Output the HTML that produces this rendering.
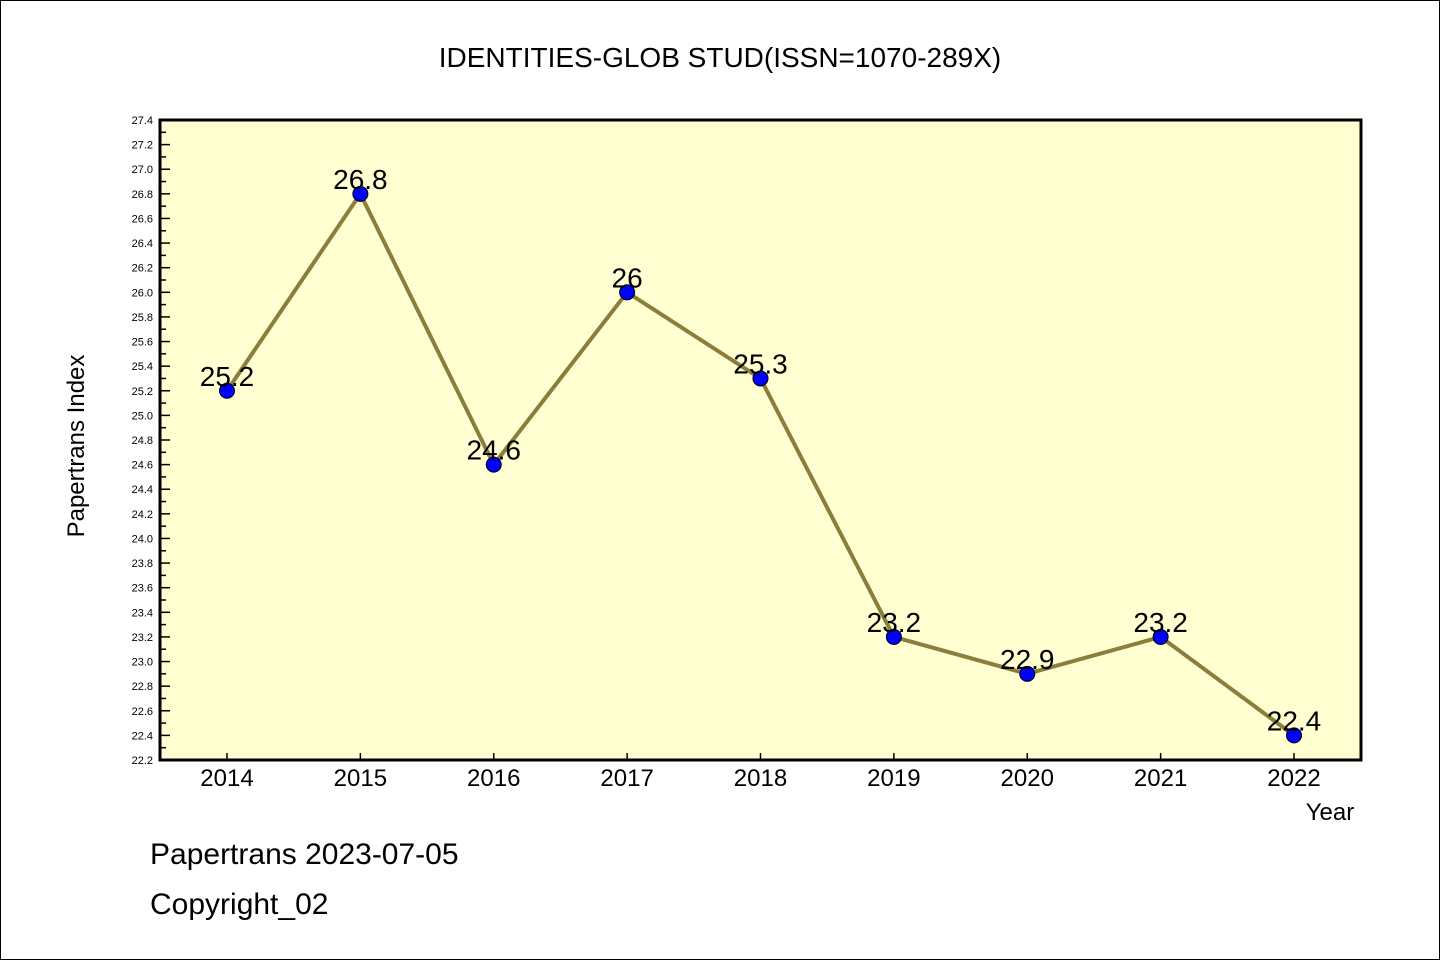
<!DOCTYPE html>
<html><head><meta charset="utf-8"><style>
body{margin:0;background:#fff}
svg text{font-family:"WenQuanYi Zen Hei","Liberation Sans",sans-serif}
</style></head><body>
<svg id="c" width="1440" height="960" xmlns="http://www.w3.org/2000/svg">
<rect x="0.5" y="0.5" width="1439" height="959" fill="#fff" stroke="#000"/>
<text x="720" y="67" font-size="28" text-anchor="middle">IDENTITIES-GLOB STUD(ISSN=1070-289X)</text>
<rect x="160" y="120" width="1201" height="640" fill="#ffffd2"/>
<g id="ticks"></g>
<g id="series"></g>
<rect x="160" y="120" width="1201" height="640" fill="none" stroke="#000" stroke-width="3"/>
<text x="1330" y="820" font-size="24" text-anchor="middle">Year</text>
<text transform="translate(84,446) rotate(-90)" font-size="24" text-anchor="middle">Papertrans Index</text>
<text x="150" y="864" font-size="30">Papertrans 2023-07-05</text>
<text x="150" y="914" font-size="30">Copyright_02</text>
</svg>
<script>
const years=[2014,2015,2016,2017,2018,2019,2020,2021,2022];
const values=[25.2,26.8,24.6,26.0,25.3,23.2,22.9,23.2,22.4];
const labels=["25.2","26.8","24.6","26","25.3","23.2","22.9","23.2","22.4"];
const yMin=22.2,yMax=27.4;
const NS="http://www.w3.org/2000/svg";
const X=i=>227+i*(1294-227)/(years.length-1);
const Y=v=>760-(v-yMin)/(yMax-yMin)*640;
function mk(t,a,p){const e=document.createElementNS(NS,t);for(const k in a)e.setAttribute(k,a[k]);p.appendChild(e);return e;}
const tg=document.getElementById('ticks'),sg=document.getElementById('series');
for(let k=0;k<=52;k++){const v=yMin+k*0.1,y=Y(v),maj=k%2==0;
 const l=mk('line',{x1:160,x2:160+(maj?10:6),y1:y,y2:y,stroke:'#000','stroke-width':1.5},tg);
 
 if(maj){const t=mk('text',{x:153,y:y+4,'font-size':11,'text-anchor':'end'},tg);t.textContent=v.toFixed(1);
 }}
years.forEach((yr,i)=>{const x=X(i);
 const l=mk('line',{x1:x,x2:x,y1:760,y2:753,stroke:'#000','stroke-width':1.5},tg);
 
 const t=mk('text',{x:x,y:786,'font-size':24,'text-anchor':'middle'},tg);t.textContent=yr;
 });
const pl=mk('polyline',{points:values.map((v,i)=>X(i)+','+Y(v)).join(' '),fill:'none',stroke:'#8b7d3a','stroke-width':4},sg);

values.forEach((v,i)=>{
 const c=mk('circle',{cx:X(i),cy:Y(v),r:7.5,fill:'#0000ff',stroke:'#000','stroke-width':1},sg);
 
 const t=mk('text',{x:X(i),y:Y(v)-5,'font-size':28,'text-anchor':'middle'},sg);t.textContent=labels[i];
 });
</script>
</body></html>
